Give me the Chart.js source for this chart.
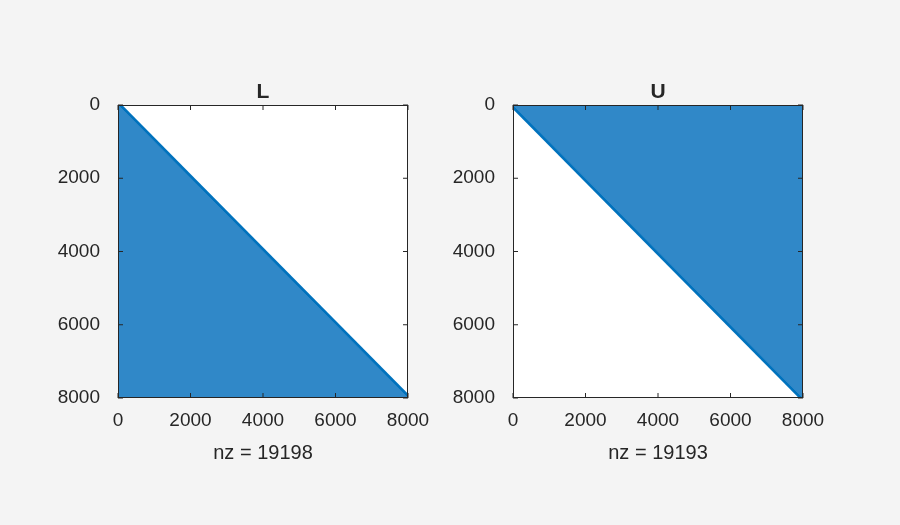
<!DOCTYPE html>
<html><head><meta charset="utf-8">
<script src="https://cdn.jsdelivr.net/npm/chart.js@4"></script>
<style>
html,body{margin:0;padding:0;background:#f4f4f4;width:900px;height:525px;overflow:hidden}
.c{position:absolute;top:0;width:450px;height:525px}
</style></head><body>
<div class="c" style="left:0"><canvas id="a"></canvas></div>
<div class="c" style="left:450px"><canvas id="b"></canvas></div>
<script>
const tickValues=[0,2000,4000,6000,8000];
const matrixSize=8000;
const titles=['L','U'];
const nzCounts=[19198,19193];
// triangle outlines of the nonzero region (data coords: column, row)
const lowerShape=[{x:0,y:0},{x:0,y:8000},{x:8000,y:8000},{x:0,y:0}];
const upperShape=[{x:0,y:0},{x:8000,y:0},{x:8000,y:8000},{x:0,y:0}];
const diagonal=[{x:0,y:0},{x:8000,y:8000}];
const blue='#0072BD', fillBlue='rgb(48,136,200)', txt='#262626';
const F='"Liberation Sans", Arial, sans-serif';

const frame={id:'frame',
 beforeDatasetsDraw(c){const a=c.chartArea,x=c.ctx;x.save();x.fillStyle='#fff';x.fillRect(a.left,a.top,a.right-a.left,a.bottom-a.top);x.restore();},
 afterDraw(c){const a=c.chartArea,x=c.ctx;x.save();x.strokeStyle=txt;x.lineWidth=1;
 x.strokeRect(a.left+.5,a.top+.5,a.right-a.left-1,a.bottom-a.top-1);
 const L=5;x.beginPath();
 tickValues.forEach(v=>{const px=c.scales.x.getPixelForValue(v),py=c.scales.y.getPixelForValue(v);
  x.moveTo(px,a.bottom);x.lineTo(px,a.bottom-L);x.moveTo(px,a.top);x.lineTo(px,a.top+L);
  x.moveTo(a.left,py);x.lineTo(a.left+L,py);x.moveTo(a.right,py);x.lineTo(a.right-L,py);});
 x.stroke();
 x.fillStyle=txt;x.font='bold 21px '+F;x.textAlign='center';x.textBaseline='bottom';
 x.fillText(c.options.plugins.frame.title,(a.left+a.right)/2,a.top-2);x.restore();}};

function make(id,shape,title,nz,yw,pr){
 new Chart(document.getElementById(id),{type:'scatter',
  data:{datasets:[
   {data:shape,showLine:true,fill:'shape',backgroundColor:fillBlue,borderColor:fillBlue,borderWidth:1,pointRadius:0},
   {data:diagonal,showLine:true,borderColor:blue,borderWidth:6,pointRadius:0}]},
  options:{responsive:false,animation:false,devicePixelRatio:1,
   layout:{padding:{top:105,right:pr,left:0,bottom:60}},
   plugins:{legend:{display:false},tooltip:{enabled:false},frame:{title}},
   scales:{
    x:{type:'linear',min:0,max:matrixSize,grid:{display:false},border:{display:false},
     afterBuildTicks(s){s.ticks=tickValues.map(v=>({value:v}));},
     afterFit(s){s.height=67;},
     ticks:{color:txt,font:{family:F,size:19},padding:3,maxRotation:0,callback:v=>String(v)},
     title:{display:true,text:'nz = '+nz,color:txt,font:{family:F,size:20},padding:{top:0,bottom:0}}},
    y:{type:'linear',min:0,max:matrixSize,reverse:true,grid:{display:false},border:{display:false},
     afterBuildTicks(s){s.ticks=tickValues.map(v=>({value:v}));},
     afterFit(s){s.width=yw;},
     ticks:{color:txt,font:{family:F,size:19},padding:10,callback:v=>String(v)}}}},
  plugins:[frame]});
}
const ca=document.getElementById('a'),cb=document.getElementById('b');
[ca,cb].forEach(c=>{c.width=450;c.height=525;});
make('a',lowerShape,titles[0],nzCounts[0],118,42);
make('b',upperShape,titles[1],nzCounts[1],63,97);
</script></body></html>
